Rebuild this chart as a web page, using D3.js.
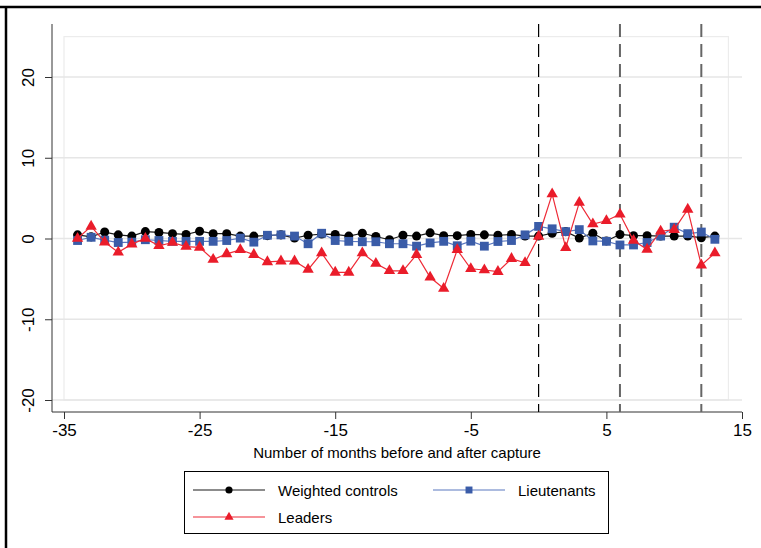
<!DOCTYPE html>
<html>
<head>
<meta charset="utf-8">
<script src="https://cdn.jsdelivr.net/npm/d3@7"></script>
<style>
  body { margin: 0; background: #fff; }
  text { font-family: "Liberation Sans", Arial, sans-serif; fill: #000; }
</style>
</head>
<body>
<script>
// months relative to capture
const months = [-34, -33, -32, -31, -30, -29, -28, -27, -26, -25, -24, -23, -22, -21, -20, -19,
  -18, -17, -16, -15, -14, -13, -12, -11, -10, -9, -8, -7, -6, -5, -4, -3, -2, -1,
  0, 1, 2, 3, 4, 5, 6, 7, 8, 9, 10, 11, 12, 13];

const controls = [0.45, 0.2, 0.8, 0.45, 0.3, 0.85, 0.75, 0.6, 0.5, 0.9, 0.6, 0.6, 0.3, 0.3, 0.35, 0.45,
  0.05, 0.4, 0.55, 0.5, 0.3, 0.65, 0.25, -0.15, 0.4, 0.3, 0.7, 0.35, 0.35, 0.5, 0.45, 0.4, 0.5, 0.3,
  0.3, 0.65, 0.85, 0.05, 0.65, -0.3, 0.5, 0.35, 0.35, 0.3, 0.3, 0.3, 0.1, 0.3];

const lieutenants = [-0.25, 0.15, -0.2, -0.5, -0.45, -0.15, -0.25, -0.35, -0.35, -0.35, -0.35, -0.25, 0.05, -0.45, 0.4, 0.45,
  0.3, -0.65, 0.65, -0.25, -0.35, -0.4, -0.4, -0.65, -0.65, -0.95, -0.55, -0.35, -0.9, -0.33, -0.95, -0.37, -0.25, 0.45,
  1.5, 1.2, 0.85, 1.1, -0.3, -0.35, -0.8, -0.8, -0.5, 0.3, 1.4, 0.6, 0.8, -0.1];

const leaders = [0.0, 1.5, -0.45, -1.7, -0.7, 0.0, -0.9, -0.5, -1.0, -1.1, -2.6, -1.9, -1.4, -2.0, -2.9, -2.8,
  -2.8, -3.85, -1.8, -4.2, -4.2, -1.8, -3.1, -4.0, -4.0, -2.0, -4.8, -6.2, -1.4, -3.75, -3.9, -4.1, -2.5, -3.0,
  0.25, 5.5, -1.15, 4.45, 1.8, 2.2, 3.0, -0.25, -1.35, 0.9, 1.1, 3.6, -3.3, -1.8];

const xTicks = [-35, -25, -15, -5, 5, 15];
const yTicks = [-20, -10, 0, 10, 20];
const eventLines = [0, 6, 12];
const xLabel = "Number of months before and after capture";

const series = [
  {name: "Weighted controls", values: controls, color: "#000000", line: "#1a1a1a", symbol: d3.symbolCircle, size: 64, lsize: 40},
  {name: "Lieutenants", values: lieutenants, color: "#3a5ca8", line: "#5b78c0", symbol: d3.symbolSquare, size: 78, lsize: 48},
  {name: "Leaders", values: leaders, color: "#ea1c2a", line: "#ee2a36", symbol: d3.symbolTriangle, size: 56, lsize: 36}
];

function main() {
  const width = 761, height = 548;

  const svg = d3.select("body").append("svg")
    .attr("width", width)
    .attr("height", height);

  // outer frame (only top and left edges visible)
  svg.append("line").attr("x1", 0).attr("x2", width).attr("y1", 7).attr("y2", 7)
    .attr("stroke", "#000").attr("stroke-width", 2.5);
  svg.append("line").attr("x1", 6).attr("x2", 6).attr("y1", 6).attr("y2", height)
    .attr("stroke", "#000").attr("stroke-width", 2.5);

  const x = d3.scaleLinear().domain([-35, 15]).range([64, 742]);
  const y = d3.scaleLinear().domain([-20, 20]).range([400, 77]);

  const axisLeft = 52, axisBottom = 412, axisTop = 24;
  const fmt = d => String(d);   // plain hyphen minus, as in the original

  // inner plot region
  svg.append("rect")
    .attr("x", x(-35)).attr("y", y(25))
    .attr("width", x(14) - x(-35)).attr("height", y(-20) - y(25))
    .attr("fill", "none").attr("stroke", "#ececec").attr("stroke-width", 1.2);

  // gridlines
  svg.append("g").selectAll("line")
    .data(yTicks)
    .join("line")
    .attr("x1", axisLeft).attr("x2", x(15))
    .attr("y1", d => y(d)).attr("y2", d => y(d))
    .attr("stroke", "#e6e6e6").attr("stroke-width", 1.6);

  // y axis
  const yAxis = svg.append("g")
    .attr("transform", `translate(${axisLeft},0)`)
    .call(d3.axisLeft(y).tickValues(yTicks).tickSize(7).tickFormat(fmt));
  yAxis.select(".domain").attr("d", `M0,${axisTop}V${axisBottom}`).attr("stroke", "#333");
  yAxis.selectAll(".tick line").attr("stroke", "#333");
  yAxis.selectAll(".tick text")
    .attr("x", null).attr("dy", null)
    .attr("transform", "translate(-24,0) rotate(-90)")
    .attr("text-anchor", "middle")
    .attr("dominant-baseline", "central")
    .style("font-size", "17px");

  // x axis
  const xAxis = svg.append("g")
    .attr("transform", `translate(0,${axisBottom})`)
    .call(d3.axisBottom(x).tickValues(xTicks).tickSize(7).tickFormat(fmt));
  xAxis.select(".domain").attr("d", `M${axisLeft},0H${x(15)}`).attr("stroke", "#333");
  xAxis.selectAll(".tick line").attr("stroke", "#333");
  xAxis.selectAll(".tick text")
    .attr("y", 12)
    .style("font-size", "17px");

  svg.append("text")
    .attr("x", (axisLeft + x(15)) / 2)
    .attr("y", 458)
    .attr("text-anchor", "middle")
    .style("font-size", "15px")
    .text(xLabel);

  // capture / follow-up markers
  svg.append("g").selectAll("line")
    .data(eventLines)
    .join("line")
    .attr("x1", d => x(d)).attr("x2", d => x(d))
    .attr("y1", axisTop).attr("y2", axisBottom)
    .attr("stroke", (d, i) => i == 0 ? "#000" : "#666")
    .attr("stroke-width", (d, i) => i == 0 ? 1.2 : 2)
    .attr("stroke-dasharray", "13,7");

  const line = d3.line()
    .x((d, i) => x(months[i]))
    .y(d => y(d));

  for (const s of series) {
    const g = svg.append("g");
    g.append("path")
      .attr("d", line(s.values))
      .attr("fill", "none")
      .attr("stroke", s.line)
      .attr("stroke-width", 1.2);
    g.selectAll("path.pt")
      .data(s.values)
      .join("path")
      .attr("class", "pt")
      .attr("transform", (d, i) => `translate(${x(months[i])},${y(d)})`)
      .attr("d", d3.symbol(s.symbol, s.size))
      .attr("fill", s.color);
  }

  // legend
  const legend = svg.append("g");
  legend.append("rect")
    .attr("x", 184.5).attr("y", 471.5)
    .attr("width", 424).attr("height", 62)
    .attr("fill", "#fff").attr("stroke", "#000").attr("stroke-width", 1);

  const slots = [[193, 490], [433, 490], [193, 517]];
  series.forEach((s, i) => {
    const [lx, ly] = slots[i];
    const item = legend.append("g").attr("transform", `translate(${lx},${ly})`);
    item.append("line").attr("x1", 0).attr("x2", 72).attr("y1", 0).attr("y2", 0)
      .attr("stroke", s.line).attr("stroke-width", 1.2);
    item.append("path")
      .attr("transform", "translate(36,0)")
      .attr("d", d3.symbol(s.symbol, s.lsize))
      .attr("fill", s.color);
    item.append("text")
      .attr("x", 85).attr("y", 0)
      .attr("dominant-baseline", "central")
      .style("font-size", "15px")
      .text(s.name);
  });
}

window.addEventListener("load", main);
</script>
</body>
</html>
